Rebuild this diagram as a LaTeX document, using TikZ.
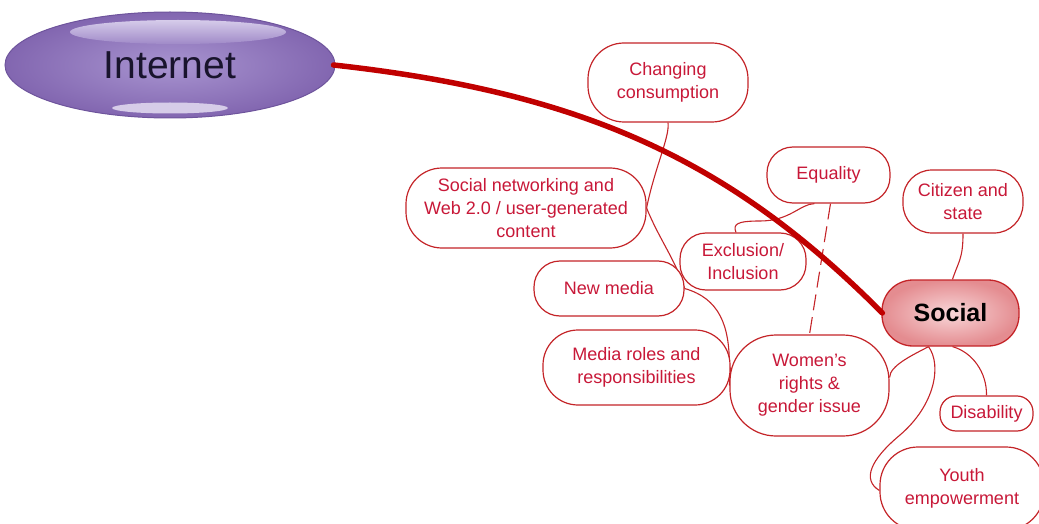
\documentclass[tikz,border=0pt]{standalone}
\usepackage{fontspec}
\setmainfont{Liberation Sans}
\usetikzlibrary{shapes.geometric,backgrounds}
\definecolor{lred}{RGB}{196,36,40}
\definecolor{tred}{RGB}{200,24,56}
\definecolor{thickred}{RGB}{192,0,0}
\definecolor{purpin}{RGB}{168,148,208}
\definecolor{purpout}{RGB}{130,102,176}
\definecolor{purpedge}{RGB}{110,84,156}
\definecolor{hitop}{RGB}{214,204,234}
\definecolor{hibot}{RGB}{160,138,200}
\definecolor{hilow}{RGB}{214,204,232}
\definecolor{pinkin}{RGB}{248,214,216}
\definecolor{pinkout}{RGB}{228,140,144}
\definecolor{inettext}{RGB}{25,20,45}
\begin{document}
\begin{tikzpicture}[x=1pt,y=-1pt,
  box/.style={draw=lred, line width=1.2pt, fill=white, text=tred, align=center,
    inner sep=0pt, font=\fontsize{18}{23}\selectfont},
  conn/.style={draw=lred, line width=1.1pt},
  dashconn/.style={draw=lred, line width=1.1pt, dash pattern=on 16pt off 7pt},
  thickconn/.style={draw=thickred, line width=5.5pt, line cap=round}]
\useasboundingbox (0,0) rectangle (1039,524);
\clip (0,0) rectangle (1039,524);

% Internet ellipse
\node[ellipse, draw=purpedge, line width=1pt, inner color=purpin, outer color=purpout,
  minimum width=330, minimum height=106, inner sep=0pt, text=inettext,
  font=\fontsize{39}{39}\selectfont] (inet) at (170,65) {Internet};
\shade[top color=hitop, bottom color=hibot]
  (178,32) ellipse [x radius=108, y radius=12];
\fill[hilow] (170,108) ellipse [x radius=58, y radius=5.5];

% Boxes
\node[box, minimum width=160, minimum height=79, rounded corners=36pt] (chg) at (668,82.5) {Changing\\consumption};
\node[box, minimum width=240, minimum height=80, rounded corners=36pt] (sn) at (526,208) {Social networking and\\Web 2.0 / user-generated\\content};
\node[box, minimum width=123, minimum height=56, rounded corners=26pt] (eq) at (828.5,175) {Equality};
\node[box, minimum width=120, minimum height=63, rounded corners=29pt] (ct) at (963,201.5) {Citizen and\\state};
\node[box, minimum width=126, minimum height=57, rounded corners=26pt] (ex) at (743,261.5) {Exclusion/\\Inclusion};
\node[box, minimum width=150, minimum height=55, rounded corners=26pt] (nm) at (609,288.5) {New media};
\node[box, minimum width=187, minimum height=75, rounded corners=35pt] (mr) at (636.5,367.5) {Media roles and\\responsibilities};
\node[box, minimum width=159, minimum height=101, rounded corners=46pt] (wr) at (809.5,385.5) {Women's\\rights \&\\gender issue};
\node[box, minimum width=93, minimum height=35, rounded corners=16pt] (dis) at (986.5,413.5) {Disability};
\node[box, minimum width=164, minimum height=83, rounded corners=38pt] (yo) at (962,488.5) {Youth\\empowerment};
\node[draw=lred, line width=1.3pt, inner color=pinkin, outer color=pinkout,
  minimum width=137, minimum height=66, rounded corners=31pt, inner sep=0pt,
  text=black, font=\fontsize{25}{25}\selectfont\bfseries] (so) at (950.5,313) {Social};

\begin{scope}[on background layer]
% thin connectors
\draw[conn] (chg.south) .. controls +(2,14) and +(8,-40) .. (sn.east);
\draw[conn] (sn.east) .. controls +(12,30) and +(-10,-30) .. (nm.east);
\draw[conn] (nm.east) .. controls +(35,10) and +(0,-40) .. ([yshift=20pt]wr.west);
\draw[conn] (mr.east) -- (wr.west);
\draw[conn] ([xshift=-7pt]ex.north) .. controls +(-3,-8) and (736,221) .. (760,221)
  .. controls (790,221) and (800,204) .. ([xshift=-14pt]eq.south);
\draw[dashconn] ([xshift=2pt]eq.south) -- (wr.north);
\draw[conn] (ct.south) .. controls +(0,25) and +(6,-18) .. ([xshift=2pt]so.north);
\draw[conn] ([xshift=-22pt]so.south) .. controls +(-15,8) and +(0,-12) .. ([yshift=8pt]wr.east);
\draw[conn] ([xshift=-22pt]so.south) .. controls (942,365) and (935,405) .. (900,435)
  .. controls (870,460) and (862,480) .. ([yshift=-2pt]yo.west);
\draw[conn] ([xshift=2pt]so.south) .. controls (972,352) and (987,372) .. (dis.north);
\end{scope}

% thick connector
\draw[thickconn] ([xshift=-2pt]inet.east) .. controls (588,93) and (733,163) .. ([xshift=1pt]so.west);
\end{tikzpicture}
\end{document}
